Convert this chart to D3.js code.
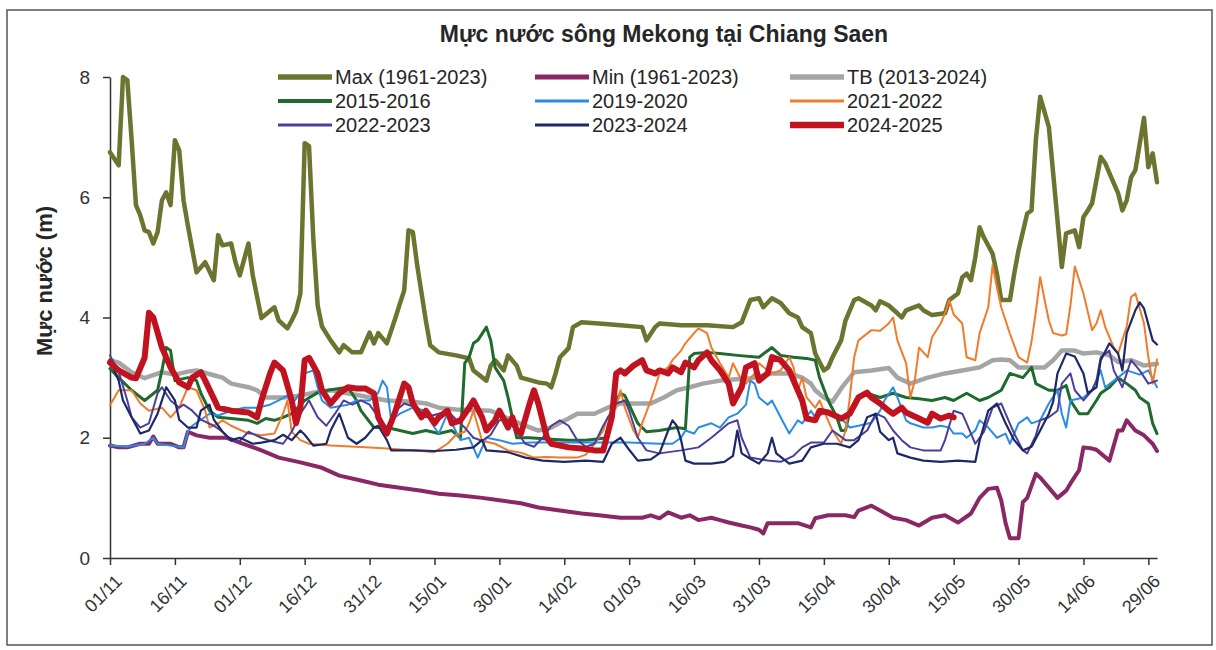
<!DOCTYPE html>
<html>
<head>
<meta charset="utf-8">
<script src="https://cdn.jsdelivr.net/npm/d3@7"></script>
<style>
    body { margin: 0; background: #fff; }
    text { font-family: "Liberation Sans", Arial, sans-serif; fill: #262626; }
</style>
</head>
<body>
<div id="chart"></div>
<script>
// x values are days counted from 01/11, y values are water level (m)
var tickDays = [0, 15, 30, 45, 60, 75, 90, 105, 120, 135, 150, 165, 180, 195, 210, 225, 240];
var tickLabels = ["01/11", "16/11", "01/12", "16/12", "31/12", "15/01", "30/01", "14/02", "01/03",
    "16/03", "31/03", "15/04", "30/04", "15/05", "30/05", "14/06", "29/06"];
var yTicks = [0, 2, 4, 6, 8];

var seriesNames = ["Max (1961-2023)", "Min (1961-2023)", "TB (2013-2024)",
    "2015-2016", "2019-2020", "2021-2022",
    "2022-2023", "2023-2024", "2024-2025"];

var maxData = [[0,6.75],[2,6.53],[3,8.0],[4,7.95],[5,6.95],[6,5.87],[7,5.7],[8,5.45],[9,5.42],[10,5.23],[11,5.42],
    [12,5.95],[13,6.08],[14,5.87],[15,6.95],[16,6.78],[17,5.95],[18,5.53],[20,4.75],[22,4.92],[24,4.62],[25,5.37],
    [26,5.2],[28,5.23],[29,4.92],[30,4.7],[32,5.23],[33,4.7],[35,3.99],[38,4.17],[39,3.95],[41,3.82],[42,3.95],
    [43,4.1],[44,4.4],[45,6.9],[46,6.85],[47,5.3],[48,4.2],[49,3.85],[51,3.62],[53,3.42],[54,3.54],[56,3.42],
    [58,3.42],[60,3.75],[61,3.57],[62,3.74],[64,3.57],[66,4.0],[67,4.23],[68,4.45],[69,5.45],[70,5.42],[71,4.87],
    [73,3.95],[74,3.54],[76,3.42],[80,3.37],[83,3.32],[84,3.12],[87,2.95],[88,3.2],[89,3.29],[91,3.12],[92,3.37],
    [94,3.2],[95,3.0],[99,2.92],[101,2.9],[102,2.84],[103,3.07],[104,3.34],[106,3.49],[107,3.84],[109,3.92],
    [113,3.9],[118,3.87],[123,3.84],[124,3.62],[126,3.84],[127,3.9],[132,3.87],[138,3.87],[144,3.84],[146,3.92],
    [148,4.29],[150,4.32],[151,4.17],[153,4.32],[155,4.24],[157,4.07],[159,4.0],[160,3.84],[162,3.74],[163,3.4],
    [165,3.12],[166,3.17],[167,3.34],[169,3.62],[170,3.95],[172,4.29],[173,4.32],[176,4.2],[177,4.12],[178,4.27],
    [180,4.2],[182,4.07],[183,4.0],[184,4.12],[187,4.2],[188,4.12],[190,4.04],[193,4.07],[194,4.29],[196,4.4],
    [197,4.67],[198,4.73],[199,4.62],[200,5.0],[201,5.5],[202,5.33],[204,5.06],[205,4.73],[206,4.29],[208,4.29],
    [209,4.73],[210,5.12],[212,5.73],[213,5.78],[214,6.95],[215,7.67],[217,7.17],[218,6.4],[220,4.84],[221,5.4],
    [223,5.45],[224,5.17],[225,5.67],[226,5.78],[227,5.9],[229,6.67],[230,6.57],[231,6.4],[233,6.07],[234,5.78],
    [235,5.95],[236,6.33],[237,6.45],[239,7.32],[240,6.5],[241,6.73],[242,6.25]];

var minData = [[0,1.87],[2,1.84],[4,1.84],[7,1.9],[9,1.9],[10,2.02],[11,1.9],[14,1.9],[16,1.84],[17,1.84],[18,2.1],
    [20,2.04],[23,2.0],[27,2.0],[30,1.92],[35,1.79],[39,1.67],[44,1.59],[49,1.5],[53,1.37],[58,1.29],[62,1.22],
    [67,1.17],[72,1.12],[76,1.07],[81,1.04],[86,1.0],[90,0.96],[95,0.91],[99,0.84],[104,0.79],[109,0.74],
    [113,0.71],[118,0.67],[123,0.67],[125,0.71],[127,0.66],[129,0.76],[132,0.67],[134,0.71],[136,0.63],[139,0.67],
    [141,0.63],[143,0.59],[146,0.54],[148,0.51],[150,0.47],[151,0.41],[152,0.58],[155,0.58],[159,0.58],[162,0.51],
    [163,0.66],[166,0.71],[170,0.71],[172,0.68],[173,0.79],[176,0.87],[178,0.79],[181,0.67],[184,0.63],[187,0.54],
    [190,0.67],[193,0.71],[196,0.59],[199,0.74],[201,1.0],[203,1.15],[205,1.17],[206,0.96],[207,0.58],[208,0.33],
    [210,0.33],[211,0.93],[212,1.0],[214,1.4],[215,1.34],[217,1.17],[219,1.0],[221,1.12],[222,1.24],[224,1.46],
    [225,1.84],[227,1.82],[228,1.8],[231,1.62],[233,2.12],[234,2.12],[235,2.29],[237,2.12],[239,2.04],[241,1.9],
    [242,1.78]];

var tbData = [[0,3.29],[2,3.25],[5,3.09],[8,2.99],[10,3.04],[12,3.09],[15,3.05],[18,3.1],[20,3.12],[24,3.04],
    [26,3.0],[28,2.9],[32,2.84],[34,2.79],[36,2.67],[40,2.67],[44,2.7],[47,2.75],[51,2.79],[58,2.7],[64,2.62],
    [70,2.6],[73,2.57],[76,2.5],[80,2.47],[88,2.45],[92,2.32],[96,2.2],[99,2.12],[102,2.17],[104,2.25],[106,2.32],
    [108,2.4],[112,2.4],[115,2.5],[118,2.57],[122,2.57],[125,2.57],[128,2.67],[131,2.79],[134,2.84],[137,2.9],
    [141,2.95],[144,2.97],[148,2.99],[150,3.02],[153,3.07],[157,3.07],[160,3.0],[162,2.9],[163,2.79],[165,2.67],
    [167,2.6],[169,2.82],[171,3.0],[172,3.09],[176,3.12],[180,3.16],[182,3.0],[185,2.9],[187,2.95],[189,3.0],
    [193,3.07],[197,3.12],[201,3.17],[204,3.29],[206,3.3],[208,3.29],[210,3.17],[213,3.17],[216,3.17],[218,3.29],
    [220,3.45],[223,3.45],[225,3.4],[228,3.42],[231,3.37],[233,3.26],[236,3.29],[239,3.2],[242,3.23]];

var data1516 = [[0,3.15],[2,3.0],[5,2.79],[8,2.62],[11,2.79],[12,3.12],[13,3.5],[14,3.45],[15,2.95],[18,3.0],
    [20,2.95],[21,2.74],[23,2.45],[25,2.34],[28,2.32],[32,2.29],[34,2.24],[36,2.32],[38,2.29],[40,2.34],[42,2.4],
    [45,2.62],[48,2.75],[51,2.8],[55,2.84],[57,2.62],[58,2.45],[61,2.17],[64,2.17],[67,2.12],[70,2.07],[73,2.12],
    [76,2.07],[79,2.12],[81,2.0],[82,3.24],[83,3.34],[84,3.57],[85,3.62],[87,3.84],[88,3.62],[89,3.17],[91,2.95],
    [92,2.67],[94,2.0],[97,2.0],[101,1.98],[106,1.96],[110,1.96],[115,2.0],[116,2.5],[118,2.74],[119,2.7],
    [122,2.24],[124,2.1],[127,2.12],[131,2.17],[133,2.15],[134,3.34],[135,3.4],[138,3.42],[141,3.4],[145,3.37],
    [150,3.34],[153,3.5],[155,3.37],[158,3.34],[161,3.32],[163,3.29],[164,3.0],[166,2.62],[168,2.34],[169,2.12],
    [170,2.12],[171,2.45],[173,2.67],[175,2.74],[178,2.67],[181,2.74],[184,2.67],[187,2.65],[190,2.62],[193,2.67],
    [195,2.62],[198,2.74],[201,2.62],[203,2.67],[206,2.79],[208,3.07],[211,3.0],[213,3.17],[214,2.9],[217,2.79],
    [219,2.79],[221,2.87],[222,2.62],[224,2.4],[226,2.4],[228,2.62],[229,2.74],[231,2.84],[233,3.0],[235,2.9],
    [237,2.79],[238,2.67],[240,2.57],[241,2.24],[242,2.07]];

var data1920 = [[0,1.87],[4,1.85],[8,1.9],[10,2.0],[11,1.9],[16,1.85],[17,1.84],[18,2.1],[19,2.2],[21,2.3],
    [23,2.4],[25,2.37],[28,2.45],[31,2.5],[34,2.5],[37,2.55],[39,2.62],[41,2.7],[42,2.55],[44,2.75],[45,3.07],
    [47,3.12],[48,2.84],[49,2.62],[51,2.5],[55,2.55],[57,2.62],[60,2.62],[62,2.75],[63,2.95],[64,2.84],[65,2.29],
    [67,2.4],[70,2.5],[73,2.45],[75,2.17],[76,2.07],[78,2.4],[79,2.24],[81,1.96],[83,2.0],[85,1.67],[87,2.0],
    [90,1.96],[93,1.9],[97,1.92],[101,1.92],[106,1.92],[111,1.92],[116,1.92],[120,1.92],[127,1.9],[130,1.9],
    [132,2.0],[133,2.12],[135,2.07],[136,2.17],[139,2.24],[141,2.17],[143,2.34],[145,2.4],[147,2.55],[148,2.95],
    [149,2.9],[150,2.67],[152,2.55],[153,2.62],[155,2.34],[157,2.07],[159,2.29],[160,2.24],[162,2.45],[163,2.34],
    [164,2.37],[166,2.45],[169,2.32],[171,2.17],[173,2.2],[176,2.25],[178,2.45],[179,2.62],[181,2.84],[182,2.67],
    [184,2.29],[185,2.24],[188,2.17],[190,2.17],[192,2.2],[194,2.17],[195,2.07],[197,2.07],[198,2.0],[200,2.12],
    [201,2.29],[203,2.17],[205,2.0],[207,2.07],[208,1.9],[210,2.24],[212,2.34],[213,2.24],[215,2.29],[217,2.57],
    [219,2.79],[220,2.4],[221,2.17],[222,2.62],[225,2.67],[227,2.79],[229,3.12],[230,2.84],[233,3.0],[235,3.12],
    [238,3.05],[240,3.12],[242,2.84]];

var data2122 = [[0,2.54],[2,2.79],[5,2.79],[7,2.57],[9,2.45],[12,2.5],[14,2.34],[16,2.5],[18,2.84],[20,2.79],
    [22,2.45],[23,2.17],[25,2.24],[26,2.29],[28,2.2],[32,2.07],[35,2.04],[38,2.07],[40,2.4],[41,2.62],[42,2.1],
    [44,1.96],[46,1.9],[51,1.87],[59,1.84],[64,1.82],[68,1.8],[72,1.78],[75,1.76],[78,1.9],[80,2.05],[82,2.1],
    [83,2.24],[84,2.45],[85,2.2],[86,1.95],[89,1.9],[92,1.79],[95,1.75],[98,1.67],[101,1.68],[104,1.67],[108,1.67],
    [110,1.72],[112,1.9],[114,2.12],[115,2.34],[117,2.5],[118,2.79],[119,2.5],[121,2.12],[122,2.0],[123,2.24],
    [125,2.62],[126,2.84],[127,3.07],[129,3.17],[130,3.29],[132,3.45],[133,3.57],[135,3.74],[136,3.82],[138,3.74],
    [139,3.5],[141,3.24],[143,3.0],[144,3.24],[146,2.95],[147,2.9],[149,3.07],[150,3.24],[152,3.12],[153,3.07],
    [155,3.12],[157,3.34],[158,3.17],[159,2.79],[160,3.0],[161,2.67],[163,2.5],[164,2.62],[165,2.45],[167,2.12],
    [169,1.9],[170,2.12],[171,2.67],[172,3.34],[173,3.62],[176,3.79],[178,3.78],[180,3.9],[181,4.0],[182,3.62],
    [184,3.24],[185,2.67],[186,2.95],[187,3.5],[189,3.34],[190,3.67],[192,3.9],[193,4.07],[194,4.29],[195,4.05],
    [197,3.9],[198,3.34],[200,3.29],[201,3.74],[203,4.17],[204,4.87],[205,4.5],[206,4.17],[208,3.73],[210,3.34],
    [212,3.25],[213,3.6],[214,4.1],[215,4.67],[216,4.3],[217,3.95],[218,3.74],[220,3.7],[221,3.72],[222,4.2],
    [223,4.85],[225,4.4],[227,3.79],[228,3.9],[229,4.12],[230,3.85],[232,3.5],[233,3.4],[235,3.85],[236,4.34],
    [237,4.4],[239,3.9],[240,3.34],[241,2.9],[242,3.3]];

var data2223 = [[0,3.37],[2,3.1],[4,2.62],[5,2.34],[7,2.17],[9,2.24],[11,2.74],[12,2.84],[14,2.62],[16,2.5],
    [17,2.55],[19,2.45],[21,2.3],[24,2.2],[26,2.1],[28,1.95],[30,1.95],[32,2.1],[35,2.0],[37,1.95],[40,1.9],
    [42,2.1],[44,2.4],[46,2.62],[48,2.34],[50,2.2],[52,2.4],[54,2.62],[56,2.55],[58,2.62],[60,2.55],[62,2.34],
    [64,2.17],[66,2.45],[68,2.57],[71,2.5],[73,2.34],[76,2.4],[78,2.45],[80,2.3],[82,2.17],[84,2.0],[86,1.95],
    [88,2.05],[90,2.29],[92,2.3],[94,2.1],[96,1.9],[98,1.85],[100,2.0],[102,2.2],[104,2.29],[106,2.2],[108,1.96],
    [110,1.85],[112,1.9],[114,2.2],[116,2.45],[117,2.57],[119,2.62],[120,2.45],[122,2.0],[124,1.79],[127,1.74],
    [132,1.79],[136,1.84],[139,2.0],[141,2.12],[143,2.24],[145,2.29],[146,2.0],[148,1.67],[152,1.62],[155,1.6],
    [158,1.7],[160,1.84],[162,1.92],[165,1.92],[167,2.12],[170,1.96],[172,1.96],[175,2.12],[177,2.4],[179,2.34],
    [181,2.12],[183,1.96],[185,1.84],[188,1.79],[192,1.79],[193,1.96],[195,2.45],[197,2.4],[198,2.24],[200,1.9],
    [202,2.1],[204,2.5],[206,2.57],[207,2.4],[209,2.07],[211,1.79],[212,1.74],[214,2.04],[215,2.29],[217,2.34],
    [219,2.45],[220,2.9],[222,3.07],[223,2.79],[225,2.62],[227,2.79],[228,2.95],[229,3.34],[231,3.45],[232,3.12],
    [234,2.84],[235,3.07],[236,3.29],[238,3.12],[240,2.9],[242,2.95]];

var data2324 = [[0,3.3],[2,2.95],[3,2.62],[5,2.34],[7,2.07],[9,2.12],[11,2.4],[13,2.84],[15,2.62],[16,2.3],
    [18,2.17],[20,2.17],[21,2.45],[23,2.55],[24,2.3],[26,2.1],[28,1.96],[30,2.0],[33,1.9],[35,1.92],[38,1.96],
    [40,2.05],[42,1.96],[44,2.12],[45,2.05],[47,1.87],[50,1.9],[51,2.12],[53,2.4],[55,2.0],[57,1.9],[59,2.0],
    [61,2.17],[62,2.2],[64,1.96],[65,1.79],[70,1.79],[75,1.78],[80,1.8],[84,1.84],[86,1.96],[87,1.79],[92,1.76],
    [96,1.67],[100,1.62],[105,1.6],[110,1.62],[114,1.6],[116,1.9],[118,2.0],[120,1.8],[122,1.62],[125,1.64],
    [127,1.74],[129,2.12],[130,2.29],[131,2.2],[132,1.96],[133,1.62],[135,1.57],[139,1.57],[142,1.6],[144,1.7],
    [145,2.12],[146,1.74],[148,1.65],[150,1.57],[152,1.74],[153,2.0],[154,1.74],[157,1.57],[160,1.62],[162,1.84],
    [165,1.9],[168,1.9],[171,1.84],[173,1.96],[175,2.34],[177,2.4],[178,2.1],[180,1.96],[181,2.0],[182,1.74],
    [185,1.67],[188,1.62],[192,1.6],[196,1.62],[200,1.6],[201,1.95],[203,2.45],[205,2.57],[207,2.24],[209,1.96],
    [211,1.79],[213,1.85],[215,2.12],[217,2.4],[218,2.6],[219,3.07],[221,3.4],[223,3.35],[225,3.07],[226,2.74],
    [228,2.84],[229,3.29],[231,3.57],[233,3.4],[234,3.12],[235,3.74],[237,4.12],[238,4.25],[239,4.15],[241,3.62],
    [242,3.55]];

var data2425 = [[0,3.25],[2,3.12],[5,3.0],[6,2.99],[8,3.33],[9,4.08],[10,4.0],[12,3.5],[14,3.17],[16,2.92],
    [18,2.84],[19,3.0],[21,3.09],[22,2.95],[24,2.65],[25,2.5],[28,2.45],[32,2.42],[34,2.34],[35,2.62],[37,3.07],
    [38,3.25],[40,3.12],[42,2.62],[43,2.24],[44,2.5],[45,3.29],[46,3.33],[48,3.07],[49,2.79],[51,2.57],[53,2.74],
    [55,2.84],[57,2.82],[59,2.82],[61,2.74],[62,2.34],[64,2.07],[66,2.45],[68,2.9],[69,2.84],[70,2.57],[72,2.34],
    [73,2.45],[75,2.24],[76,2.34],[78,2.45],[79,2.24],[81,2.29],[83,2.5],[84,2.62],[86,2.34],[87,2.12],[89,2.29],
    [90,2.45],[92,2.17],[93,2.34],[94,2.12],[95,2.07],[97,2.57],[98,2.79],[99,2.57],[101,2.0],[102,1.9],[106,1.84],
    [109,1.82],[112,1.79],[114,1.79],[116,2.34],[117,3.07],[118,3.12],[119,3.07],[121,3.2],[123,3.29],[124,3.12],
    [126,3.07],[127,3.12],[129,3.07],[130,3.17],[132,3.09],[133,3.25],[135,3.17],[136,3.29],[138,3.42],[139,3.29],
    [141,3.12],[143,2.9],[144,2.57],[146,2.84],[147,3.17],[149,3.24],[150,2.95],[152,3.07],[153,3.34],[155,3.29],
    [157,3.12],[158,2.95],[160,2.62],[161,2.32],[163,2.29],[164,2.45],[166,2.42],[169,2.32],[171,2.4],[173,2.67],
    [175,2.75],[176,2.67],[178,2.57],[180,2.45],[181,2.4],[183,2.5],[184,2.42],[187,2.32],[189,2.25],[190,2.4],
    [192,2.32],[194,2.37],[195,2.34]];

var seriesData = [maxData, minData, tbData, data1516, data1920, data2122, data2223, data2324, data2425];

// styles, kept apart from the data
var colors = ["#6d7430", "#8a2865", "#a5a5a5", "#1f6b2e", "#2b8ce6", "#f07b2b", "#4b3f9c", "#1c2868", "#c1121f"],
    widths = [4.5, 4, 4.5, 3, 2, 2, 2, 2.2, 6];

var width = 1216,
    height = 650,
    plot = {left: 110, right: 1157, top: 77, bottom: 558};

var svg = d3.select("#chart").append("svg")
    .attr("width", width)
    .attr("height", height);

svg.append("rect")
    .attr("x", 7).attr("y", 10)
    .attr("width", 1205).attr("height", 635)
    .style("fill", "none")
    .style("stroke", "#555")
    .style("stroke-width", 1.5);

var x = d3.scaleLinear().domain([0, 242]).range([plot.left, plot.right]);
var y = d3.scaleLinear().domain([0, 8]).range([plot.bottom, plot.top]);

var yAxis = svg.append("g")
    .attr("transform", "translate(" + plot.left + ",0)")
    .call(d3.axisLeft(y).tickValues(yTicks).tickSize(7).tickSizeOuter(0).tickPadding(13));

yAxis.selectAll("text")
    .style("font-size", "19px")
    .style("font-family", "Liberation Sans, Arial, sans-serif")
    .style("fill", "#333");

var xAxis = svg.append("g")
    .attr("transform", "translate(0," + plot.bottom + ")")
    .call(d3.axisBottom(x).tickValues(tickDays).tickSize(7).tickSizeOuter(0)
        .tickFormat(function (d, i) { return tickLabels[i]; }));

xAxis.selectAll("text")
    .style("font-size", "18px")
    .style("font-family", "Liberation Sans, Arial, sans-serif")
    .style("fill", "#333")
    .style("text-anchor", "end")
    .attr("x", 0)
    .attr("y", 0)
    .attr("dy", "0.35em")
    .attr("transform", "translate(8,20) rotate(-45)");

svg.selectAll(".domain, .tick line")
    .style("stroke", "#333")
    .style("stroke-width", 1.5);

var line = d3.line()
    .x(function (d) { return x(d[0]); })
    .y(function (d) { return y(d[1]); });

svg.selectAll(".series")
    .data(seriesData)
    .enter().append("path")
    .attr("class", "series")
    .attr("d", line)
    .style("fill", "none")
    .style("stroke", function (d, i) { return colors[i]; })
    .style("stroke-width", function (d, i) { return widths[i]; })
    .style("stroke-linejoin", "round")
    .style("stroke-linecap", "round");

// legend, three columns by three rows
var legendCols = [278, 535, 790],
    legendRows = [77, 101, 125];

var legend = svg.selectAll(".legend")
    .data(seriesNames)
    .enter().append("g")
    .attr("class", "legend")
    .attr("transform", function (d, i) {
        return "translate(" + legendCols[i % 3] + "," + legendRows[Math.floor(i / 3)] + ")";
    });

legend.append("line")
    .attr("x1", 0).attr("x2", 54)
    .style("stroke", function (d, i) { return colors[i]; })
    .style("stroke-width", function (d, i) { return Math.min(widths[i] + 0.8, 6.5); });

legend.append("text")
    .attr("x", 57)
    .attr("dy", "0.35em")
    .style("font-size", "20px")
    .text(function (d) { return d; });

svg.append("text")
    .attr("x", 664)
    .attr("y", 42)
    .style("text-anchor", "middle")
    .style("font-size", "23px")
    .style("font-weight", "bold")
    .text("Mực nước sông Mekong tại Chiang Saen");

svg.append("text")
    .attr("transform", "translate(52,281) rotate(-90)")
    .style("text-anchor", "middle")
    .style("font-size", "22px")
    .style("font-weight", "bold")
    .text("Mực nước (m)");
</script>
</body>
</html>
